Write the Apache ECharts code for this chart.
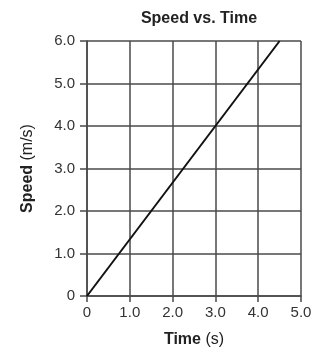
<!DOCTYPE html>
<html><head><meta charset="utf-8">
<script src="https://cdn.jsdelivr.net/npm/echarts@6/dist/echarts.min.js"></script>
<style>html,body{margin:0;padding:0;background:#fff}#c{width:334px;height:353px}</style>
</head><body><div id="c"></div>
<script>
var titleText = 'Speed vs. Time';
var xTicks = [0, 1, 2, 3, 4, 5];
var yTicks = [0, 1, 2, 3, 4, 5, 6];
var timeData = [0, 4.5];
var speedData = [0, 6.0];

var chart = echarts.init(document.getElementById('c'));
var fmt = function (v) { return v === 0 ? '0' : v.toFixed(1); };
var gridColor = '#4a4a4a';
var ff = 'Liberation Sans, Arial';
chart.setOption({
  animation: false,
  title: {
    text: titleText, left: 194, top: 6, textAlign: 'center',
    textStyle: { fontFamily: ff, fontWeight: 'bold', fontSize: 16, color: '#222' }
  },
  grid: { left: 87, right: 33, top: 41, bottom: 57 },
  xAxis: {
    type: 'value', min: xTicks[0], max: xTicks[xTicks.length - 1], interval: 1,
    name: '{b|Time} (s)', nameLocation: 'middle', nameGap: 36,
    nameTextStyle: { fontFamily: ff, fontSize: 16, color: '#222',
      rich: { b: { fontWeight: 'bold', fontSize: 16, fontFamily: ff, color: '#222' } } },
    axisLine: { show: true, lineStyle: { color: gridColor, width: 1.5 } },
    axisTick: { show: true, length: 6, lineStyle: { color: gridColor, width: 1.5 } },
    splitLine: { show: true, lineStyle: { color: gridColor, width: 1.5 } },
    axisLabel: { formatter: fmt, fontFamily: ff, fontSize: 15, color: '#333', margin: 9 }
  },
  yAxis: {
    type: 'value', min: yTicks[0], max: yTicks[yTicks.length - 1], interval: 1,
    name: '{b|Speed} (m/s)', nameLocation: 'middle', nameGap: 51, nameRotate: 90,
    nameTextStyle: { fontFamily: ff, fontSize: 16, color: '#222',
      rich: { b: { fontWeight: 'bold', fontSize: 16, fontFamily: ff, color: '#222' } } },
    axisLine: { show: true, lineStyle: { color: gridColor, width: 1.5 } },
    axisTick: { show: true, length: 7, lineStyle: { color: gridColor, width: 1.5 } },
    splitLine: { show: true, lineStyle: { color: gridColor, width: 1.5 } },
    axisLabel: { formatter: fmt, fontFamily: ff, fontSize: 15, color: '#333', margin: 12 }
  },
  series: [{
    type: 'line', data: timeData.map(function (t, i) { return [t, speedData[i]]; }),
    symbol: 'none', lineStyle: { color: '#111', width: 2 }
  }]
});
</script></body></html>
